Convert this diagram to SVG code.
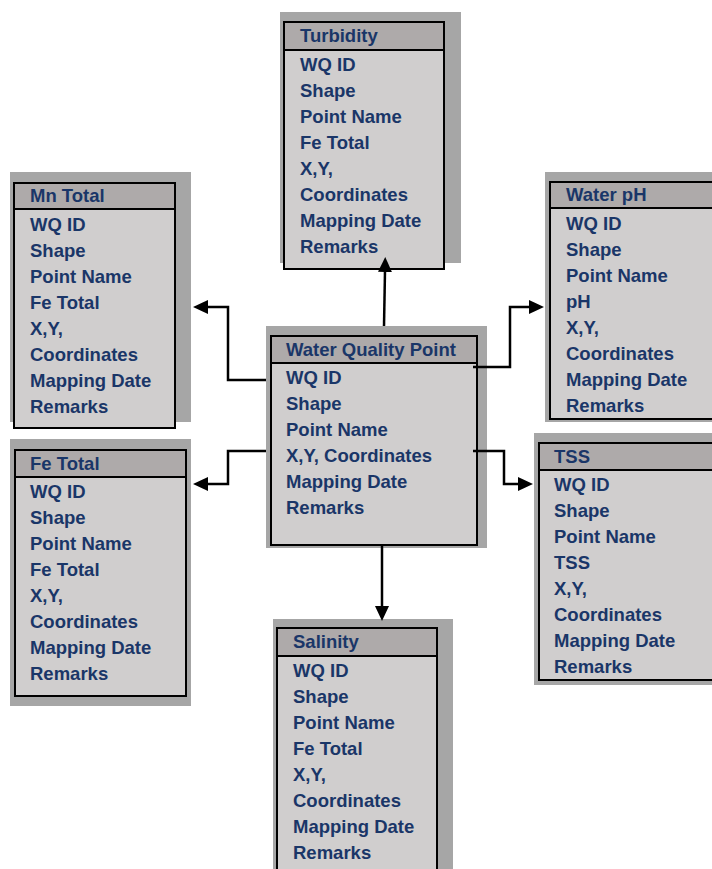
<svg xmlns="http://www.w3.org/2000/svg" width="712" height="869" viewBox="0 0 712 869">
  <style>
    .shadow { fill: #a6a6a6; }
    .body { fill: #d0cece; stroke: #000; stroke-width: 2; }
    .head { fill: #aeaaaa; stroke: #000; stroke-width: 2; }
    .t { font-family: "Liberation Sans", Arial, sans-serif; font-weight: bold; font-size: 18.5px; fill: #1a3668; }
    .conn { fill: none; stroke: #000; stroke-width: 2.5; }
  </style>
  <defs>
    <marker id="arrow" viewBox="0 0 15 14" refX="1" refY="7" markerWidth="15" markerHeight="14" markerUnits="userSpaceOnUse" orient="auto">
      <path d="M0,0 L15,7 L0,14 z" fill="#000"/>
    </marker>
  </defs>
  <rect width="712" height="869" fill="#fff"/>

  <!-- Turbidity table -->
  <g id="turbidity">
    <rect class="shadow" x="280" y="12" width="181" height="251"/>
    <rect class="body" x="284" y="22" width="160" height="247"/>
    <rect class="head" x="284" y="22" width="160" height="28"/>
    <text class="t" x="300" y="42">Turbidity</text>
    <text class="t" x="300" y="71">WQ ID</text>
    <text class="t" x="300" y="97">Shape</text>
    <text class="t" x="300" y="123">Point Name</text>
    <text class="t" x="300" y="149">Fe Total</text>
    <text class="t" x="300" y="175">X,Y,</text>
    <text class="t" x="300" y="201">Coordinates</text>
    <text class="t" x="300" y="227">Mapping Date</text>
    <text class="t" x="300" y="253">Remarks</text>
  </g>

  <!-- Mn Total table -->
  <g id="mn-total">
    <rect class="shadow" x="10" y="172" width="181" height="250"/>
    <rect class="body" x="14" y="183" width="161" height="245"/>
    <rect class="head" x="14" y="183" width="161" height="26"/>
    <text class="t" x="30" y="202">Mn Total</text>
    <text class="t" x="30" y="231">WQ ID</text>
    <text class="t" x="30" y="257">Shape</text>
    <text class="t" x="30" y="283">Point Name</text>
    <text class="t" x="30" y="309">Fe Total</text>
    <text class="t" x="30" y="335">X,Y,</text>
    <text class="t" x="30" y="361">Coordinates</text>
    <text class="t" x="30" y="387">Mapping Date</text>
    <text class="t" x="30" y="413">Remarks</text>
  </g>

  <!-- Fe Total table -->
  <g id="fe-total">
    <rect class="shadow" x="10" y="439" width="181" height="267"/>
    <rect class="body" x="15" y="450" width="171" height="246"/>
    <rect class="head" x="15" y="450" width="171" height="27"/>
    <text class="t" x="30" y="470">Fe Total</text>
    <text class="t" x="30" y="498">WQ ID</text>
    <text class="t" x="30" y="524">Shape</text>
    <text class="t" x="30" y="550">Point Name</text>
    <text class="t" x="30" y="576">Fe Total</text>
    <text class="t" x="30" y="602">X,Y,</text>
    <text class="t" x="30" y="628">Coordinates</text>
    <text class="t" x="30" y="654">Mapping Date</text>
    <text class="t" x="30" y="680">Remarks</text>
  </g>

  <!-- Water Quality Point table (centre) -->
  <g id="water-quality-point">
    <rect class="shadow" x="266" y="326" width="221" height="222"/>
    <rect class="body" x="271" y="336" width="206" height="209"/>
    <rect class="head" x="271" y="336" width="206" height="27"/>
    <text class="t" x="286" y="356">Water Quality Point</text>
    <text class="t" x="286" y="384">WQ ID</text>
    <text class="t" x="286" y="410">Shape</text>
    <text class="t" x="286" y="436">Point Name</text>
    <text class="t" x="286" y="462">X,Y, Coordinates</text>
    <text class="t" x="286" y="488">Mapping Date</text>
    <text class="t" x="286" y="514">Remarks</text>
  </g>

  <!-- Salinity table -->
  <g id="salinity">
    <rect class="shadow" x="273" y="619" width="180" height="260"/>
    <rect class="body" x="277" y="628" width="160" height="260"/>
    <rect class="head" x="277" y="628" width="160" height="28"/>
    <text class="t" x="293" y="648">Salinity</text>
    <text class="t" x="293" y="677">WQ ID</text>
    <text class="t" x="293" y="703">Shape</text>
    <text class="t" x="293" y="729">Point Name</text>
    <text class="t" x="293" y="755">Fe Total</text>
    <text class="t" x="293" y="781">X,Y,</text>
    <text class="t" x="293" y="807">Coordinates</text>
    <text class="t" x="293" y="833">Mapping Date</text>
    <text class="t" x="293" y="859">Remarks</text>
  </g>

  <!-- Water pH table -->
  <g id="water-ph">
    <rect class="shadow" x="545" y="172" width="180" height="250"/>
    <rect class="body" x="550" y="182" width="170" height="237"/>
    <rect class="head" x="550" y="182" width="170" height="26"/>
    <text class="t" x="566" y="201">Water pH</text>
    <text class="t" x="566" y="230">WQ ID</text>
    <text class="t" x="566" y="256">Shape</text>
    <text class="t" x="566" y="282">Point Name</text>
    <text class="t" x="566" y="308">pH</text>
    <text class="t" x="566" y="334">X,Y,</text>
    <text class="t" x="566" y="360">Coordinates</text>
    <text class="t" x="566" y="386">Mapping Date</text>
    <text class="t" x="566" y="412">Remarks</text>
  </g>

  <!-- TSS table -->
  <g id="tss">
    <rect class="shadow" x="534" y="433" width="190" height="252"/>
    <rect class="body" x="539" y="443" width="181" height="237"/>
    <rect class="head" x="539" y="443" width="181" height="27"/>
    <text class="t" x="554" y="463">TSS</text>
    <text class="t" x="554" y="491">WQ ID</text>
    <text class="t" x="554" y="517">Shape</text>
    <text class="t" x="554" y="543">Point Name</text>
    <text class="t" x="554" y="569">TSS</text>
    <text class="t" x="554" y="595">X,Y,</text>
    <text class="t" x="554" y="621">Coordinates</text>
    <text class="t" x="554" y="647">Mapping Date</text>
    <text class="t" x="554" y="673">Remarks</text>
  </g>

  <!-- Connectors from the central table -->
  <g id="connectors">
    <polyline class="conn" points="384,326 385,271" marker-end="url(#arrow)"/>
    <polyline class="conn" points="266,380 228,380 228,307 207,307" marker-end="url(#arrow)"/>
    <polyline class="conn" points="266,451 228,451 228,484 207,484" marker-end="url(#arrow)"/>
    <polyline class="conn" points="473,367 510,367 510,307 530,307" marker-end="url(#arrow)"/>
    <polyline class="conn" points="473,451 504,451 504,484 519,484" marker-end="url(#arrow)"/>
    <polyline class="conn" points="382,545 382,607" marker-end="url(#arrow)"/>
  </g>
</svg>
